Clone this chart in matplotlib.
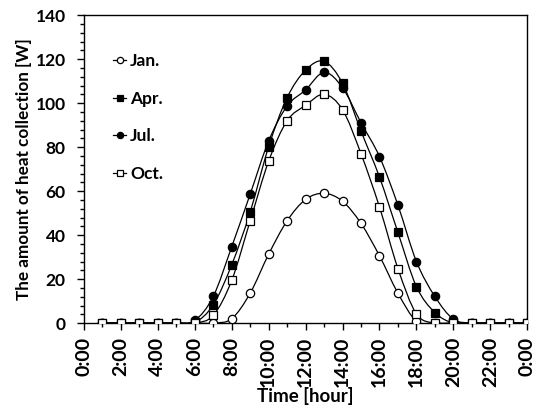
import matplotlib
matplotlib.use("Agg")
import matplotlib.pyplot as plt
from matplotlib.path import Path
from matplotlib.patches import PathPatch
from matplotlib.lines import Line2D
from matplotlib.ticker import MultipleLocator
import numpy as np

plt.rcParams['font.family'] = ['Lato', 'DejaVu Sans']
plt.rcParams['font.weight'] = 'bold'

# hours 1..24
hours = list(range(1, 25))
jan = [0, 0, 0, 0, 0, 0, 0, 2, 13.6, 31.3, 46.5, 56.2, 59, 55.4, 45.3, 30.6,
       13.6, 0.9, 0, 0, 0, 0, 0, 0]
apr = [0, 0, 0, 0, 0, 0.3, 8.3, 26.5, 50.5, 80.2, 102.5, 115, 119, 109, 87.3,
       66.4, 41.2, 16.6, 4.8, 0, 0, 0, 0, 0]
jul = [0, 0, 0, 0, 0, 1.2, 12.1, 34.7, 58.6, 82.8, 98.7, 106, 114, 107, 91.1,
       75.7, 53.6, 28, 12.1, 1.8, 0, 0, 0, 0]
octo = [0, 0, 0, 0, 0, 0, 3.5, 19.4, 46.5, 73.6, 92, 99, 104, 97, 77, 52.8,
        24.8, 4.2, 0, 0, 0, 0, 0, 0]
labels = ['Jan.', 'Apr.', 'Jul.', 'Oct.']
xtick_labels = ['0:00', '2:00', '4:00', '6:00', '8:00', '10:00', '12:00',
                '14:00', '16:00', '18:00', '20:00', '22:00', '0:00']


def smooth_path(x, y):
    # Excel-like smoothed line: Catmull-Rom segments as cubic Bezier curves
    x = np.asarray(x, float)
    y = np.asarray(y, float)
    pts = np.column_stack([x, y])
    verts = [pts[0]]
    codes = [Path.MOVETO]
    n = len(pts)
    for i in range(n - 1):
        p0 = pts[i - 1] if i > 0 else pts[i]
        p1 = pts[i]
        p2 = pts[i + 1]
        p3 = pts[i + 2] if i + 2 < n else pts[i + 1]
        c1 = p1 + (p2 - p0) / 6.0
        c2 = p2 - (p3 - p1) / 6.0
        verts += [c1, c2, p2]
        codes += [Path.CURVE4] * 3
    return Path(verts, codes)


fig = plt.figure(figsize=(5.38, 4.09), dpi=100)
ax = fig.add_axes([0.156, 0.21, 0.824, 0.753])

series = [
    (jan, 'o', 'white'),
    (apr, 's', 'black'),
    (jul, 'o', 'black'),
    (octo, 's', 'white'),
]

handles = []
for (vals, mk, fc), lab in zip(series, labels):
    patch = PathPatch(smooth_path(hours, vals), fill=False, edgecolor='black',
                      lw=0.9, zorder=2)
    ax.add_patch(patch)
    ax.plot(hours, vals, ls='none', marker=mk, ms=6, mfc=fc, mec='black',
            mew=0.9, zorder=3)
    handles.append(Line2D([], [], color='black', lw=0.9, marker=mk, ms=4.5,
                          mfc=fc, mec='black', mew=0.9, label=lab))

ax.set_xlim(0, 24)
ax.set_ylim(0, 140)
ax.xaxis.set_minor_locator(MultipleLocator(1))
ax.yaxis.set_major_locator(MultipleLocator(20))
ax.yaxis.set_minor_locator(MultipleLocator(4))
ax.set_xticks(range(0, 25, 2))
ax.set_xticklabels(xtick_labels, rotation=90, fontsize=14, fontweight='bold')
for t in ax.get_yticklabels():
    t.set_fontsize(12.5)
    t.set_fontweight('bold')
ax.tick_params(axis='x', which='major', direction='out', length=5, width=1,
               pad=5)
ax.tick_params(axis='y', which='major', direction='out', length=5, width=1,
               pad=8)
ax.tick_params(axis='both', which='minor', direction='out', length=3, width=1)
for s in ax.spines.values():
    s.set_linewidth(1)

ax.set_xlabel('Time [hour]', fontsize=13.5, fontweight='bold', labelpad=0)
ax.set_ylabel('The amount of heat collection [W]', fontsize=12.3,
              fontweight='bold', labelpad=3)

leg = ax.legend(handles=handles, loc='upper left',
                bbox_to_anchor=(0.045, 0.905), frameon=False,
                handlelength=0.8, handletextpad=0.2, labelspacing=1.25,
                borderpad=0, prop={'weight': 'bold', 'size': 12.5})

fig.savefig('out.png', dpi=100)
